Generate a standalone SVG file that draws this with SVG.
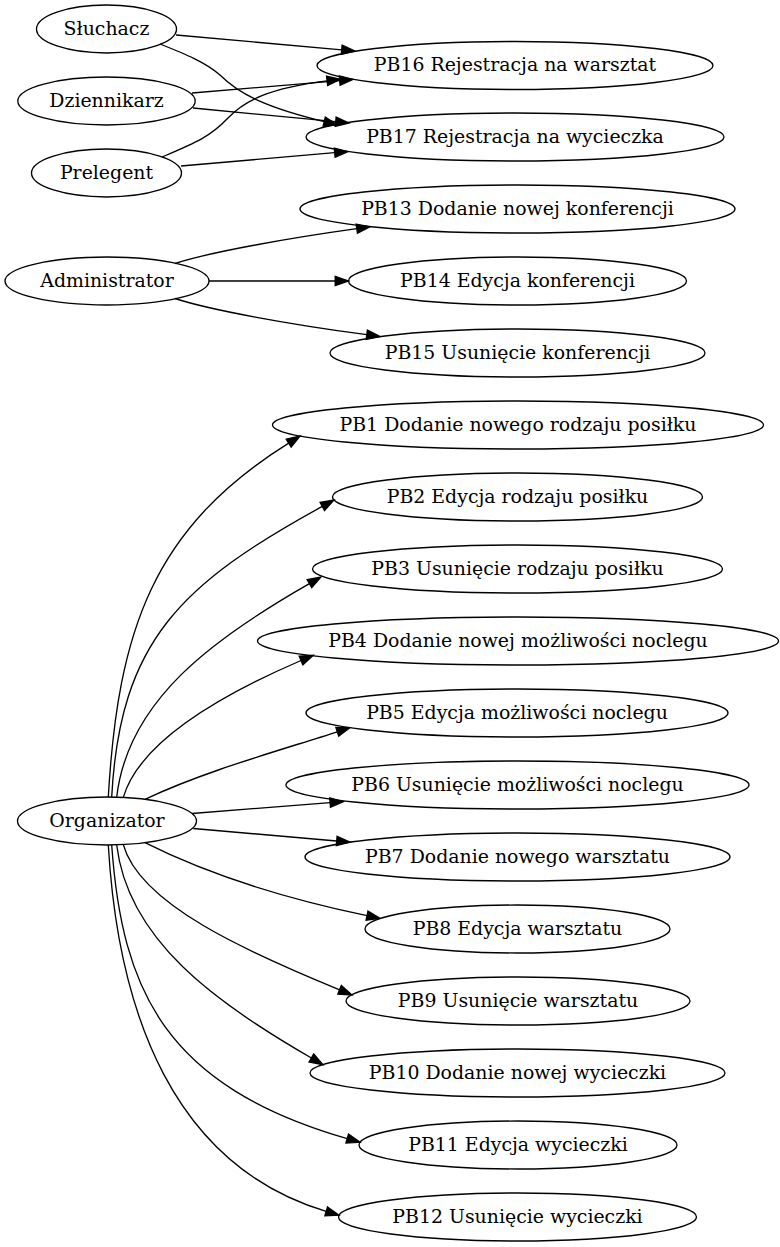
<svg xmlns="http://www.w3.org/2000/svg" width="780" height="1247" viewBox="0 0 780 1247">
<style>
.n ellipse{fill:none;stroke:#000;stroke-width:1.33}
.n text{font-family:"DejaVu Serif",serif;font-size:18.9px;text-anchor:middle;fill:#000}
.e path{fill:none;stroke:#000;stroke-width:1.33;marker-end:url(#ah)}
</style>
<defs>
<marker id="ah" markerUnits="userSpaceOnUse" viewBox="-1 -6 16 12" markerWidth="16" markerHeight="12" refX="0" refY="0" orient="auto" overflow="visible">
<path d="M0,-4.67 L13.33,0 L0,4.67 z" fill="#000" stroke="#000" stroke-width="1.33"/>
</marker>
</defs>
<rect width="780" height="1247" fill="#fff"/>
<g id="edges" class="e">
<path d="M176,35 L341.7,49.8"/>
<path d="M160,44 C185,54 205,62 220,75 C240,95 268,108 324.2,121.7"/>
<path d="M192,93 L339.7,80.6"/>
<path d="M193,108 L335.7,121.7"/>
<path d="M162,157 C195,143 210,137 228,118 C245,100 270,88 327.1,80.8"/>
<path d="M181,166 L334.7,152.7"/>
<path d="M175,263.5 C210,252 290,238 356.8,228.7"/>
<path d="M209,281 L335.2,281"/>
<path d="M175,298.5 C210,310 290,324.5 366.8,334.7"/>
<path d="M108.3,797 C118,630 153,527.9 288.7,443.1"/>
<path d="M111.7,797 C120,640 182.1,583.5 322.3,506.4"/>
<path d="M116.7,797 C128,700 213.9,638.2 309.4,583.6"/>
<path d="M123.3,797.4 C140,740 228,692 301,660.5"/>
<path d="M145,799.3 C205,771 280.2,750.3 337.3,731.8"/>
<path d="M192,813.5 L330.1,802.6"/>
<path d="M193.3,828.5 L336.7,841"/>
<path d="M145,842.7 C215,878 298.6,901.3 367,915.7"/>
<path d="M123.3,844.6 C140,905 250,953 339.6,989.8"/>
<path d="M116.7,845 C128,940 216,1003.2 311.4,1058"/>
<path d="M111.7,845 C122,990 164.6,1085.8 347.2,1138.6"/>
<path d="M108.3,845 C118,1012 172.9,1165.5 326.2,1211.4"/>
</g>
<g id="sluchacz" class="n"><ellipse cx="106.5" cy="29" rx="70" ry="24"/><text x="106.5" y="34.5">Słuchacz</text></g>
<g id="dziennikarz" class="n"><ellipse cx="106.5" cy="101" rx="88.7" ry="24"/><text x="106.5" y="106.5">Dziennikarz</text></g>
<g id="prelegent" class="n"><ellipse cx="106.5" cy="173" rx="75" ry="24"/><text x="106.5" y="178.5">Prelegent</text></g>
<g id="administrator" class="n"><ellipse cx="107" cy="281" rx="102" ry="24"/><text x="107" y="286.5">Administrator</text></g>
<g id="organizator" class="n"><ellipse cx="107" cy="821" rx="89.5" ry="24"/><text x="107" y="826.5">Organizator</text></g>
<g id="pb16" class="n"><ellipse cx="515" cy="65.5" rx="198" ry="24"/><text x="515" y="71">PB16 Rejestracja na warsztat</text></g>
<g id="pb17" class="n"><ellipse cx="515" cy="137" rx="209" ry="24"/><text x="515" y="142.5">PB17 Rejestracja na wycieczka</text></g>
<g id="pb13" class="n"><ellipse cx="517.5" cy="209" rx="217.5" ry="24"/><text x="517.5" y="214.5">PB13 Dodanie nowej konferencji</text></g>
<g id="pb14" class="n"><ellipse cx="517.5" cy="281" rx="169" ry="24"/><text x="517.5" y="286.5">PB14 Edycja konferencji</text></g>
<g id="pb15" class="n"><ellipse cx="517.5" cy="353" rx="187.5" ry="24"/><text x="517.5" y="358.5">PB15 Usunięcie konferencji</text></g>
<g id="pb1" class="n"><ellipse cx="518" cy="425" rx="245.5" ry="24"/><text x="518" y="430.5">PB1 Dodanie nowego rodzaju posiłku</text></g>
<g id="pb2" class="n"><ellipse cx="517.5" cy="497" rx="185" ry="24"/><text x="517.5" y="502.5">PB2 Edycja rodzaju posiłku</text></g>
<g id="pb3" class="n"><ellipse cx="517.5" cy="569" rx="205" ry="24"/><text x="517.5" y="574.5">PB3 Usunięcie rodzaju posiłku</text></g>
<g id="pb4" class="n"><ellipse cx="518" cy="641" rx="260.5" ry="24"/><text x="518" y="646.5">PB4 Dodanie nowej możliwości noclegu</text></g>
<g id="pb5" class="n"><ellipse cx="517" cy="713" rx="211" ry="24"/><text x="517" y="718.5">PB5 Edycja możliwości noclegu</text></g>
<g id="pb6" class="n"><ellipse cx="517.5" cy="785" rx="231.5" ry="24"/><text x="517.5" y="790.5">PB6 Usunięcie możliwości noclegu</text></g>
<g id="pb7" class="n"><ellipse cx="517.5" cy="857" rx="212.5" ry="24"/><text x="517.5" y="862.5">PB7 Dodanie nowego warsztatu</text></g>
<g id="pb8" class="n"><ellipse cx="517.5" cy="929" rx="152.5" ry="24"/><text x="517.5" y="934.5">PB8 Edycja warsztatu</text></g>
<g id="pb9" class="n"><ellipse cx="518" cy="1001" rx="172" ry="24"/><text x="518" y="1006.5">PB9 Usunięcie warsztatu</text></g>
<g id="pb10" class="n"><ellipse cx="517.5" cy="1073" rx="207.5" ry="24"/><text x="517.5" y="1078.5">PB10 Dodanie nowej wycieczki</text></g>
<g id="pb11" class="n"><ellipse cx="518" cy="1145" rx="159" ry="24"/><text x="518" y="1150.5">PB11 Edycja wycieczki</text></g>
<g id="pb12" class="n"><ellipse cx="517.5" cy="1217" rx="179" ry="24"/><text x="517.5" y="1222.5">PB12 Usunięcie wycieczki</text></g>
</svg>
